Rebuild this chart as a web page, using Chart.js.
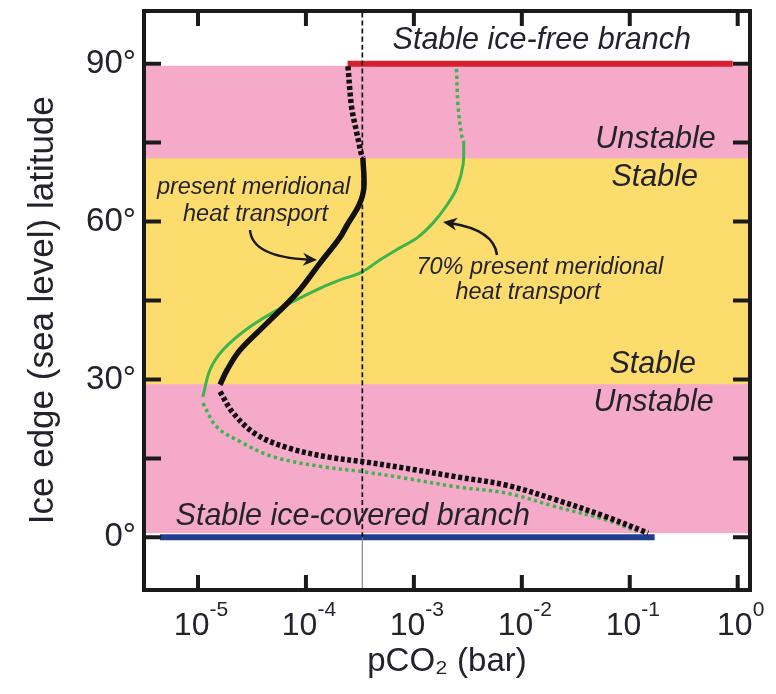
<!DOCTYPE html>
<html>
<head>
<meta charset="utf-8">
<script src="https://cdn.jsdelivr.net/npm/chart.js@4.4.1/dist/chart.umd.min.js"></script>
<style>
  html, body { margin: 0; padding: 0; background: #fff; }
</style>
</head>
<body>
<canvas id="chart" width="776" height="694"></canvas>
<script>
'use strict';

// ── Data (pCO2 in bar, latitude in degrees) ──
const xTickValues = [1e-5, 1e-4, 1e-3, 1e-2, 1e-1, 1];
const xTickExps   = ['-5', '-4', '-3', '-2', '-1', '0'];
const yTickValues = [0, 15, 30, 45, 60, 75, 90];
const yLabelValues = [0, 30, 60, 90];
const yTickLabels  = ['0°', '30°', '60°', '90°'];

// present meridional heat transport (black)
const blackTopCO2 = [2.45e-4, 2.65e-4, 2.94e-4, 3.28e-4, 3.37e-4];
const blackTopLat = [89.5, 81.7, 77.1, 72.6, 72.1];
const blackMidCO2 = [3.37e-4, 3.44e-4, 3.10e-4, 2.40e-4, 2.07e-4, 1.35e-4, 8.26e-5, 4.36e-5, 2.45e-5, 1.86e-5, 1.60e-5];
const blackMidLat = [72.1, 66.4, 63.1, 59.3, 57.0, 52.1, 46.4, 40.7, 35.6, 31.8, 29.0];
const blackLowCO2 = [1.60e-5, 2.12e-5, 3.50e-5, 7.11e-5, 1.67e-4, 3.32e-4, 8.55e-4, 2.48e-3, 7.21e-3, 2.09e-2, 6.08e-2, 0.148];
const blackLowLat = [27.7, 23.6, 19.5, 16.9, 15.2, 14.4, 13.1, 11.5, 9.9, 7.1, 3.9, 0.8];

// 70% present meridional heat transport (green)
const greenTopCO2 = [2.48e-3, 2.57e-3, 2.77e-3, 2.90e-3];
const greenTopLat = [89.0, 81.7, 76.4, 75.1];
const greenMidCO2 = [2.90e-3, 2.85e-3, 2.50e-3, 2.02e-3, 1.50e-3, 1.07e-3, 7.41e-4, 4.84e-4, 3.30e-4, 2.07e-4, 1.44e-4, 6.12e-5, 3.03e-5, 1.70e-5, 1.29e-5, 1.11e-5];
const greenMidLat = [75.1, 70.7, 66.4, 63.1, 59.7, 56.9, 55.0, 52.7, 50.4, 48.9, 47.6, 43.8, 40.0, 35.6, 31.8, 26.7];
const greenLowCO2 = [1.11e-5, 1.49e-5, 2.45e-5, 4.98e-5, 1.45e-4, 3.32e-4, 8.55e-4, 2.48e-3, 7.21e-3, 2.09e-2, 6.08e-2, 0.115];
const greenLowLat = [25.5, 21.0, 18.2, 15.3, 13.4, 12.5, 11.2, 9.6, 8.4, 5.8, 3.3, 1.2];

// stable branches and present-day reference pCO2
const iceFreeCO2 = [2.43e-4, 0.90];
const iceFreeLat = [90, 90];
const iceCoveredCO2 = [4.45e-6, 0.17];
const iceCoveredLat = [0, 0];
const refCO2 = 3.33e-4;

// stability bands (latitude ranges)
const unstableBand = [0.8, 89.6];
const stableBand   = [29.1, 72.0];

// ── Estilo ─────────────────────────────────────────────
const FONT = '"Liberation Sans", Arial, Helvetica, sans-serif';
const TEXT = '#23232e';
const colors = {
    pink:   '#f5aaca',
    yellow: '#fddc6e',
    red:    '#d7202f',
    blue:   '#213d8d',
    green:  '#3db54a',
    black:  '#111111'
};

const pts = (xs, ys) => xs.map((x, i) => ({ x, y: ys[i] }));

function curve(data, color, width, dash, order) {
    return {
        data, order,
        borderColor: color,
        borderWidth: width,
        borderDash: dash,
        borderCapStyle: 'butt',
        showLine: true,
        pointRadius: 0,
        tension: 0.35,
        fill: false
    };
}

// annotation texts, placed in data units
const notes = [
    { text: 'Stable ice-free branch', x: 1.53e-2, y: 94.3, align: 'center', size: 30.5 },
    { text: 'Unstable', x: 0.625, y: 75.6, align: 'right', size: 30.5 },
    { text: 'Stable', x: 0.170, y: 68.3, align: 'center', size: 30.5 },
    { text: 'present meridional', x: 3.27e-5, y: 66.5, align: 'center', size: 23.5 },
    { text: 'heat transport', x: 3.41e-5, y: 61.4, align: 'center', size: 23.5 },
    { text: '70% present meridional', x: 1.47e-2, y: 51.2, align: 'center', size: 23.5 },
    { text: 'heat transport', x: 1.14e-2, y: 46.6, align: 'center', size: 23.5 },
    { text: 'Stable', x: 0.163, y: 32.8, align: 'center', size: 30.5 },
    { text: 'Unstable', x: 0.60, y: 25.7, align: 'right', size: 30.5 },
    { text: 'Stable ice-covered branch', x: 6.2e-6, y: 3.9, align: 'left', size: 30.5 }
];

function drawArrow(ctx, p0, c, p1) {
    const ang = Math.atan2(p1[1] - c[1], p1[0] - c[0]);
    const L = 14, W = 6.5;
    ctx.beginPath();
    ctx.moveTo(p0[0], p0[1]);
    ctx.quadraticCurveTo(c[0], c[1], p1[0] - Math.cos(ang) * 8, p1[1] - Math.sin(ang) * 8);
    ctx.stroke();
    ctx.beginPath();
    ctx.moveTo(p1[0], p1[1]);
    ctx.lineTo(p1[0] - L * Math.cos(ang) + W * Math.sin(ang), p1[1] - L * Math.sin(ang) - W * Math.cos(ang));
    ctx.lineTo(p1[0] - L * 0.7 * Math.cos(ang), p1[1] - L * 0.7 * Math.sin(ang));
    ctx.lineTo(p1[0] - L * Math.cos(ang) - W * Math.sin(ang), p1[1] - L * Math.sin(ang) + W * Math.cos(ang));
    ctx.closePath();
    ctx.fill();
}

const decorPlugin = {
    id: 'decor',
    beforeDatasetsDraw(chart) {
        const { ctx, chartArea: a, scales: { y } } = chart;
        ctx.save();
        [[unstableBand, colors.pink], [stableBand, colors.yellow]].forEach(([b, col]) => {
            const top = y.getPixelForValue(b[1]);
            const bot = y.getPixelForValue(b[0]);
            ctx.fillStyle = col;
            ctx.fillRect(a.left, top, a.right - a.left, bot - top);
        });
        ctx.restore();
    },
    afterDatasetsDraw(chart) {
        const { ctx, scales: { x, y } } = chart;
        ctx.save();
        ctx.fillStyle = TEXT;
        ctx.textBaseline = 'middle';
        notes.forEach(n => {
            ctx.font = `italic ${n.size}px ${FONT}`;
            ctx.textAlign = n.align;
            ctx.fillText(n.text, x.getPixelForValue(n.x), y.getPixelForValue(n.y));
        });
        ctx.strokeStyle = '#1a1a1a';
        ctx.fillStyle = '#1a1a1a';
        ctx.lineWidth = 2.5;
        drawArrow(ctx, [250, 230], [252, 257], [317, 260]);
        drawArrow(ctx, [497, 255], [494, 230], [443, 222]);
        ctx.restore();
    },
    afterDraw(chart) {
        const { ctx, chartArea: a, scales: { x, y } } = chart;
        ctx.save();
        ctx.strokeStyle = '#1a1a1a';
        ctx.lineWidth = 4;
        ctx.strokeRect(a.left, a.top, a.right - a.left, a.bottom - a.top);
        ctx.beginPath();
        xTickValues.forEach(v => {
            const px = x.getPixelForValue(v);
            ctx.moveTo(px, a.bottom); ctx.lineTo(px, a.bottom - 15);
            ctx.moveTo(px, a.top);    ctx.lineTo(px, a.top + 15);
        });
        yTickValues.forEach(v => {
            const py = y.getPixelForValue(v);
            ctx.moveTo(a.left, py);  ctx.lineTo(a.left + 17, py);
            ctx.moveTo(a.right, py); ctx.lineTo(a.right - 17, py);
        });
        ctx.stroke();

        // tick labels
        ctx.fillStyle = TEXT;
        ctx.textBaseline = 'middle';
        ctx.textAlign = 'right';
        ctx.font = `33px ${FONT}`;
        yLabelValues.forEach((v, i) => {
            ctx.fillText(yTickLabels[i], a.left - 8, y.getPixelForValue(v));
        });
        ctx.textBaseline = 'alphabetic';
        ctx.textAlign = 'left';
        xTickValues.forEach((v, i) => {
            const px = x.getPixelForValue(v);
            ctx.font = `32px ${FONT}`;
            const wb = ctx.measureText('10').width;
            ctx.font = `21px ${FONT}`;
            const ws = ctx.measureText(xTickExps[i]).width;
            const start = px - (wb + ws) / 2 + 3;
            ctx.font = `32px ${FONT}`;
            ctx.fillText('10', start, a.bottom + 45);
            ctx.font = `21px ${FONT}`;
            ctx.fillText(xTickExps[i], start + wb, a.bottom + 26);
        });
        ctx.restore();
    }
};

new Chart(document.getElementById('chart'), {
    type: 'scatter',
    data: {
        datasets: [
            curve([{ x: refCO2, y: 0 }, { x: refCO2, y: 100 }], colors.black, 1.7, [5, 3], 0),
            curve([{ x: refCO2, y: -10 }, { x: refCO2, y: 0 }], '#888888', 1.2, [], 0),
            curve(pts(blackTopCO2, blackTopLat), colors.black, 5.5, [4, 2.6], 1),
            curve(pts(blackMidCO2, blackMidLat), colors.black, 5.5, [], 1),
            curve(pts(blackLowCO2, blackLowLat), colors.black, 5.5, [4, 2.6], 1),
            curve(pts(greenTopCO2, greenTopLat), colors.green, 3.5, [3.3, 3.3], 2),
            curve(pts(greenMidCO2, greenMidLat), colors.green, 3, [], 2),
            curve(pts(greenLowCO2, greenLowLat), colors.green, 3.5, [3.3, 3.3], 2),
            curve(pts(iceFreeCO2, iceFreeLat), colors.red, 6, [], 3),
            curve(pts(iceCoveredCO2, iceCoveredLat), colors.blue, 6, [], 3)
        ]
    },
    options: {
        responsive: false,
        animation: false,
        devicePixelRatio: 1,
        layout: { padding: { top: 11, right: 26, left: 0, bottom: 0 } },
        plugins: { legend: { display: false }, tooltip: { enabled: false } },
        scales: {
            x: {
                type: 'logarithmic',
                min: 3.16e-6,
                max: 1.3,
                bounds: 'data',
                grid: { display: false, drawTicks: false },
                border: { display: false },
                ticks: { display: false },
                title: {
                    display: true,
                    text: 'pCO₂ (bar)',
                    color: TEXT,
                    font: { family: FONT, size: 33 },
                    padding: { top: 0, bottom: 12 }
                },
                afterFit: s => { s.height = 104; }
            },
            y: {
                type: 'linear',
                min: -10,
                max: 100,
                bounds: 'data',
                grid: { display: false, drawTicks: false },
                border: { display: false },
                ticks: { display: false },
                title: {
                    display: true,
                    text: 'Ice edge (sea level) latitude\u00a0\u00a0',
                    color: TEXT,
                    font: { family: FONT, size: 35 },
                    padding: { top: 22, bottom: 0 }
                },
                afterFit: s => { s.width = 144; }
            }
        }
    },
    plugins: [decorPlugin]
});
</script>
</body>
</html>
